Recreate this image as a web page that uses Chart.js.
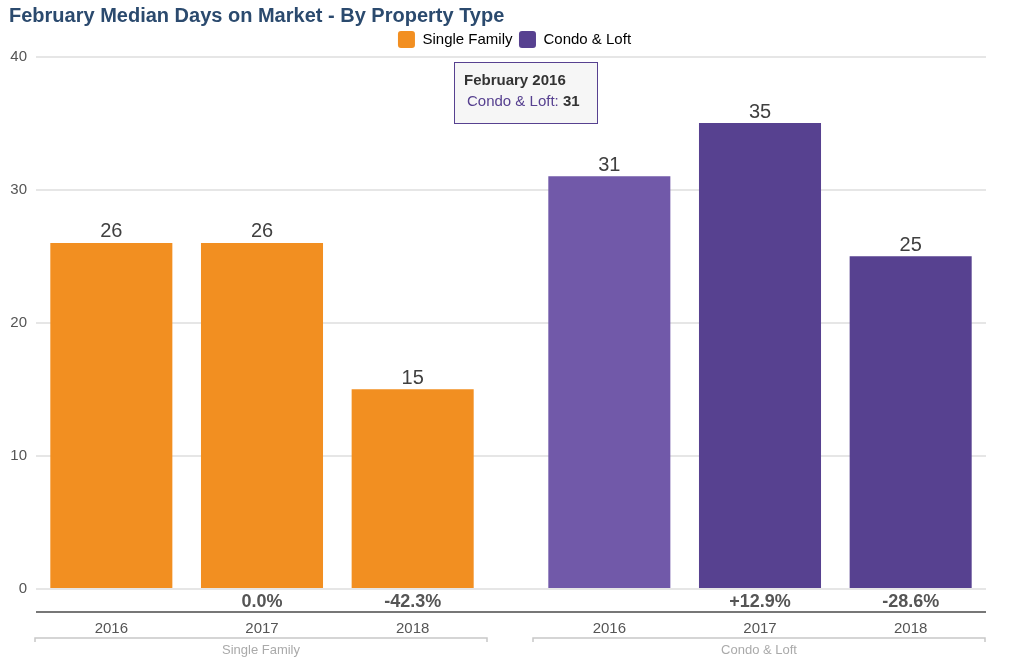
<!DOCTYPE html>
<html>
<head>
<meta charset="utf-8">
<script src="https://cdn.jsdelivr.net/npm/chart.js@4.4.1/dist/chart.umd.min.js"></script>
<style>
  html, body { margin: 0; padding: 0; background: #fff; }
  #wrap { width: 1020px; height: 664px; position: relative; }
</style>
</head>
<body>
<div id="wrap"><canvas id="c" width="1020" height="664"></canvas></div>
<script>
// ---- data ----
const groups = ['Single Family', 'Condo & Loft'];
const years = ['2016', '2017', '2018'];
const singleFamily = [26, 26, 15];
const condoLoft = [31, 35, 25];
const pctChange = ['', '0.0%', '-42.3%', '', '+12.9%', '-28.6%'];
const yTicks = [0, 10, 20, 30, 40];
const tooltipTitle = 'February 2016';
const tooltipLabel = 'Condo & Loft: ';
const tooltipValue = '31';

// ---- styles ----
const ORANGE = '#F28F21';
const PURPLE = '#574190';
const PURPLE_HOVER = '#7159A9';
const GROUP_GAP = 46;
const LEGEND_SHIFT = 17;
const LEGEND_DOWN = 1.5;
const FONT = "'Liberation Sans', Arial, sans-serif";

// category scale with a gap between groups
class GapCategoryScale extends Chart.CategoryScale {
  getPixelForValue(value) {
    if (typeof value !== 'number') value = this.parse(value);
    if (value === null || isNaN(value)) return NaN;
    const n = this._valueRange;
    const per = years.length;
    const ng = Math.ceil(n / per);
    const slot = (this.width - GROUP_GAP * (ng - 1)) / n;
    const rel = value - this._startValue;
    const g = Math.min(ng - 1, Math.max(0, Math.floor(rel / per)));
    return this.left + rel * slot + g * GROUP_GAP;
  }
}
GapCategoryScale.id = 'gapcategory';
GapCategoryScale.defaults = Chart.CategoryScale.defaults;
Chart.register(GapCategoryScale);

const labels = [];
groups.forEach(() => years.forEach(y => labels.push(y)));
const nY = years.length;
const sfData = labels.map((_, i) => i < nY ? singleFamily[i] : null);
const clData = labels.map((_, i) => i >= nY ? condoLoft[i - nY] : null);
const clColors = labels.map((_, i) => i === nY ? PURPLE_HOVER : PURPLE);

const extras = {
  id: 'extras',
  afterLayout(chart) {
    chart.legend.left += LEGEND_SHIFT;
    chart.legend.right += LEGEND_SHIFT;
    chart.legend.top += LEGEND_DOWN;
    chart.legend.bottom += LEGEND_DOWN;
  },
  afterDatasetsDraw(chart) {
    const ctx = chart.ctx;
    const x = chart.scales.x;
    const area = chart.chartArea;
    ctx.save();
    // value labels
    ctx.font = '20px ' + FONT;
    ctx.fillStyle = '#404040';
    ctx.textAlign = 'center';
    ctx.textBaseline = 'bottom';
    chart.data.datasets.forEach((ds, di) => {
      const meta = chart.getDatasetMeta(di);
      meta.data.forEach((bar, i) => {
        if (ds.data[i] == null) return;
        ctx.fillText(String(ds.data[i]), bar.x, bar.y - 1);
      });
    });
    // percent changes
    ctx.font = 'bold 18px ' + FONT;
    ctx.fillStyle = '#555';
    ctx.textBaseline = 'middle';
    pctChange.forEach((p, i) => {
      if (!p) return;
      ctx.fillText(p, x.getPixelForValue(i), area.bottom + 13);
    });
    // dark axis line
    ctx.strokeStyle = '#777';
    ctx.lineWidth = 2;
    ctx.beginPath();
    ctx.moveTo(area.left, area.bottom + 23);
    ctx.lineTo(area.right, area.bottom + 23);
    ctx.stroke();
    // group brackets & labels
    const slotHalf = (x.getPixelForValue(1) - x.getPixelForValue(0)) / 2;
    groups.forEach((g, gi) => {
      const x0 = x.getPixelForValue(gi * nY) - slotHalf - 1;
      const x1 = x.getPixelForValue(gi * nY + nY - 1) + slotHalf - 1;
      const by = area.bottom + 49;
      ctx.strokeStyle = '#c8c8c8';
      ctx.lineWidth = 1.5;
      ctx.beginPath();
      ctx.moveTo(x0, by + 4);
      ctx.lineTo(x0, by);
      ctx.lineTo(x1, by);
      ctx.lineTo(x1, by + 4);
      ctx.stroke();
      ctx.font = '13px ' + FONT;
      ctx.fillStyle = '#aaa';
      ctx.textBaseline = 'middle';
      ctx.fillText(g, (x0 + x1) / 2, by + 12);
    });
    // tooltip
    const tx = 454, ty = 62, tw = 143, th = 61;
    ctx.fillStyle = 'rgba(246,246,246,0.95)';
    ctx.fillRect(tx, ty, tw, th);
    ctx.strokeStyle = PURPLE;
    ctx.lineWidth = 1;
    ctx.strokeRect(tx + 0.5, ty + 0.5, tw, th);
    ctx.textAlign = 'left';
    ctx.textBaseline = 'middle';
    ctx.font = 'bold 15px ' + FONT;
    ctx.fillStyle = '#333';
    ctx.fillText(tooltipTitle, tx + 10, ty + 19);
    ctx.font = '15px ' + FONT;
    ctx.fillStyle = PURPLE;
    ctx.fillText(tooltipLabel, tx + 13, ty + 40);
    const lw = ctx.measureText(tooltipLabel).width;
    ctx.font = 'bold 15px ' + FONT;
    ctx.fillStyle = '#333';
    ctx.fillText(tooltipValue, tx + 13 + lw, ty + 40);
    ctx.restore();
  }
};

new Chart(document.getElementById('c'), {
  type: 'bar',
  data: {
    labels: labels,
    datasets: [
      { label: groups[0], data: sfData, backgroundColor: ORANGE, grouped: false },
      { label: groups[1], data: clData, backgroundColor: clColors, grouped: false }
    ]
  },
  options: {
    responsive: false,
    animation: false,
    events: [],
    barPercentage: 0.81,
    categoryPercentage: 1,
    layout: { padding: { left: 9, right: 34, top: 0, bottom: 0 } },
    plugins: {
      title: {
        display: true,
        text: 'February Median Days on Market - By Property Type',
        align: 'start',
        color: '#2B4A6E',
        font: { family: FONT, size: 20, weight: 'bold', lineHeight: 0.8 },
        padding: { top: 8, bottom: -1 }
      },
      legend: {
        display: true,
        labels: {
          color: '#333',
          font: { family: FONT, size: 15 },
          boxWidth: 17, boxHeight: 17,
          useBorderRadius: true, borderRadius: 3,
          padding: 6.5,
          generateLabels(chart) {
            return [
              { text: groups[0], fillStyle: ORANGE, strokeStyle: ORANGE, lineWidth: 0, datasetIndex: 0, borderRadius: 3 },
              { text: groups[1], fillStyle: PURPLE, strokeStyle: PURPLE, lineWidth: 0, datasetIndex: 1, borderRadius: 3 }
            ];
          }
        }
      },
      tooltip: { enabled: false }
    },
    scales: {
      x: {
        type: 'gapcategory',
        offset: true,
        grid: { display: false, drawTicks: false },
        border: { display: false },
        ticks: { color: '#555', font: { family: FONT, size: 15 }, padding: 31, maxRotation: 0, autoSkip: false },
        afterFit(s) { s.height = 75; }
      },
      y: {
        min: 0, max: 40,
        afterBuildTicks(s) { s.ticks = yTicks.map(v => ({ value: v })); },
        grid: { color: '#e6e6e6', lineWidth: 2, drawTicks: false },
        border: { display: false },
        ticks: { color: '#555', font: { family: FONT, size: 15 }, padding: 9 },
        afterFit(s) { s.width = 27; }
      }
    }
  },
  plugins: [extras]
});
</script>
</body>
</html>
